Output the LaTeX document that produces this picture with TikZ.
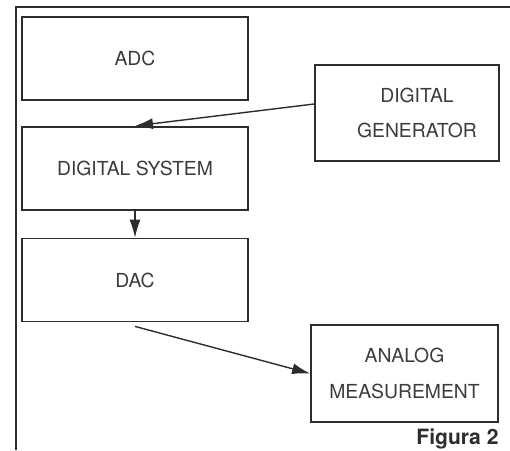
\documentclass[tikz,border=0pt]{standalone}
\usepackage{fontspec}
\setmainfont{TeX Gyre Heros}
\usepackage{tikz}
\usetikzlibrary{positioning, arrows.meta}
\definecolor{inkgray}{RGB}{45, 45, 45}
\definecolor{txtgray}{RGB}{60, 60, 60}
\tikzset{
  blk/.style={rectangle, draw=inkgray, line width=1pt, fill=white,
    minimum width=45.2mm, minimum height=16.6mm, align=center, text=txtgray,
    font=\fontsize{11}{20}\selectfont},
  side/.style={blk, minimum width=37.4mm, minimum height=19.3mm},
  flow/.style={-{Latex[length=3.6mm, width=2.2mm]}, line width=0.8pt, inkgray},
  frame/.style={line width=1.6pt, inkgray},
  figcap/.style={font=\bfseries\fontsize{12}{14}\selectfont, text=inkgray, inner sep=0pt},
}

\begin{document}
\begin{tikzpicture}[node distance=5mm]
    \useasboundingbox (0,0) rectangle (10.2,-9);
    \draw[frame] (0.32,-9) |- (10.2,-0.14);
    % left column
    \node[blk] (adc) at (2.7,-1.17) {ADC};
    \node[blk, below=5mm of adc] (sys) {DIGITAL SYSTEM};
    \node[blk, below=5.4mm of sys] (dac) {DAC};
    % right column
    \node[side, minimum width=36.8mm] (gen) at (8.14,-2.26) {\hspace*{4mm}DIGITAL\\\hspace*{4mm}GENERATOR};
    \node[side] (meas) at (8.09,-7.47) {ANALOG\\MEASUREMENT};
    \node[figcap, anchor=north east] (fig) at ([yshift=-1.2mm]meas.south east) {Figura 2};
    \draw[flow] ([yshift=1.8mm]gen.west) -- (sys.north);
    \draw[flow] (sys.south) -- (dac.north);
    \draw[flow] ([yshift=-0.8mm]dac.south) -- (meas.west);
  \end{tikzpicture}
\end{document}
